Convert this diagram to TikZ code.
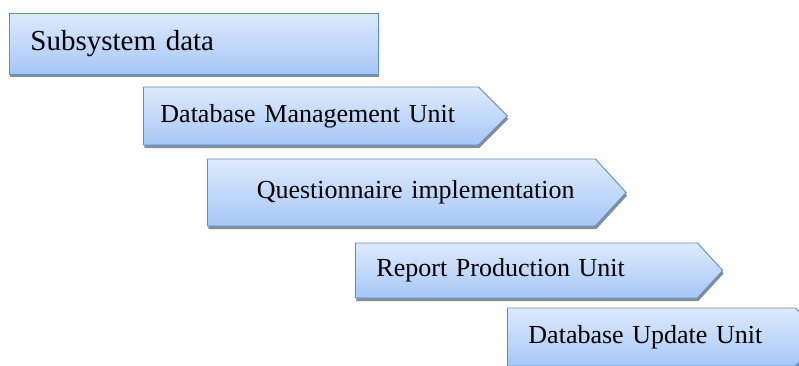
\documentclass[tikz,border=0pt]{standalone}
\usepackage{fontspec}
\setmainfont{Liberation Serif}
\usepackage{tikz}
\usetikzlibrary{shapes.symbols,shadows,positioning}
\definecolor{boxtop}{RGB}{222,234,252}
\definecolor{boxbottom}{RGB}{166,199,247}
\definecolor{boxline}{RGB}{84,141,212}
\tikzset{unit style/.style={draw=boxline,line width=0.9pt,top color=boxtop,bottom color=boxbottom,
	drop shadow={shadow xshift=1pt,shadow yshift=-3pt,fill=black!45,opacity=1},
	inner xsep=21pt,inner ysep=0pt,align=left,font=\fontsize{26}{30}\selectfont,anchor=west},
	arrow unit/.style={unit style,shape=signal,signal to=east,signal pointer angle=90}}

\begin{document}
\begin{tikzpicture}[x=1pt,y=-1pt]
	\useasboundingbox (0,0) rectangle (799,365);
	
	\node[unit style,rectangle,minimum height=61pt,text width=327pt,
	font=\fontsize{29}{33}\selectfont] (subsys) at (9,43.5) {Subsystem data};
	
	\node[arrow unit,minimum height=58pt,inner xsep=17pt,text width=301pt] (dbman) at (143,116) {Database Management Unit};
	\node[arrow unit,minimum height=67pt,text width=346pt,signal pointer angle=95,
	align=right] (quest) at (207,192.5) {Questionnaire implementation};
	\node[arrow unit,minimum height=55pt,text width=300pt,signal pointer angle=95] (report) at (355,270.5) {Report Production Unit};
	\node[arrow unit,minimum height=58pt,text width=246pt] (dbupd) at (507,337) {Database Update Unit};
\end{tikzpicture}
\end{document}
